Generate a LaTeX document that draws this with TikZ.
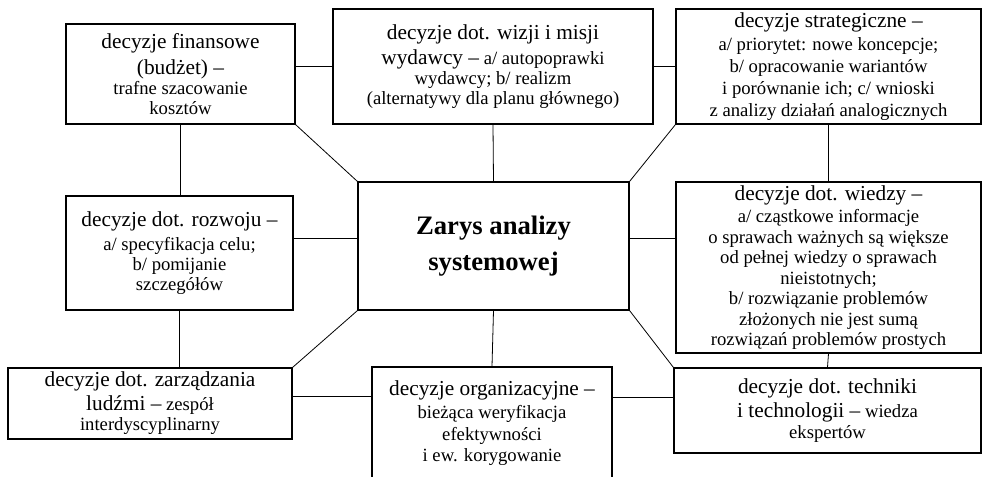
\documentclass[tikz,border=0pt]{standalone}
\usepackage{fontspec}
\setmainfont{Liberation Serif}
\usetikzlibrary{positioning}
\newcommand{\duzy}{\fontsize{16}{19}\selectfont}
\newcommand{\maly}{\fontsize{14}{15}\selectfont}

\begin{document}
\begin{tikzpicture}[
  x=0.75pt, y=-0.75pt,
  box/.style={draw, line width=0.9pt, align=center, inner sep=2pt, font=\maly},
  link/.style={line width=0.6pt}
]
\useasboundingbox (0,0) rectangle (983,476);
\node[box, minimum width=271*0.75pt, minimum height=128*0.75pt, font=\fontsize{20}{27}\selectfont\bfseries] (cen) at (493.5,246) {Zarys analizy\\systemowej};
\node[box, minimum width=229*0.75pt, minimum height=100*0.75pt] (fin) at (180.5,74)
  {{\duzy decyzje finansowe}\\[5pt]{\duzy (budżet) –}\\trafne szacowanie\\kosztów};
\node[box, minimum width=320*0.75pt, minimum height=115*0.75pt] (wiz) at (493,66.5)
  {{\duzy decyzje dot. wizji i misji}\\[3.5pt]{\duzy wydawcy –} a/ autopoprawki\\wydawcy; b/ realizm\\(alternatywy dla planu głównego)};
\node[box, minimum width=305*0.75pt, minimum height=115*0.75pt, font=\fontsize{14}{16.5}\selectfont] (str) at (828.5,66.5)
  {{\duzy decyzje strategiczne –}\\[1pt]a/ priorytet: nowe koncepcje;\\b/ opracowanie wariantów\\i porównanie ich; c/ wnioski\\z analizy działań analogicznych};
\node[box, minimum width=227*0.75pt, minimum height=114*0.75pt] (roz) at (179.5,253)
  {{\duzy decyzje dot. rozwoju –}\\[3pt]a/ specyfikacja celu;\\b/ pomijanie\\szczegółów};
\node[box, minimum width=305*0.75pt, minimum height=171*0.75pt, font=\fontsize{14}{15.4}\selectfont] (wie) at (828.5,267.5)
  {{\duzy decyzje dot. wiedzy –}\\[1.5pt]a/ cząstkowe informacje\\o sprawach ważnych są większe\\od pełnej wiedzy o sprawach\\nieistotnych;\\b/ rozwiązanie problemów\\złożonych nie jest sumą\\rozwiązań problemów prostych};
\node[box, minimum width=284*0.75pt, minimum height=71*0.75pt] (zar) at (150,403.5)
  {{\duzy decyzje dot. zarządzania}\\[3pt]{\duzy ludźmi –} zespół\\interdyscyplinarny};
\node[box, minimum width=240*0.75pt, minimum height=113*0.75pt, font=\fontsize{14}{16.2}\selectfont] (org) at (492,423.5)
  {{\duzy decyzje organizacyjne –}\\[1pt]bieżąca weryfikacja\\efektywności\\i ew. korygowanie};
\node[box, minimum width=307*0.75pt, minimum height=85*0.75pt] (tec) at (827.5,410.5)
  {{\duzy decyzje dot. techniki}\\[3pt]{\duzy i technologii –} wiedza\\[1pt]ekspertów};

\draw[link] (wiz.west) -- (wiz.west -| fin.east);
\draw[link] (wiz.east) -- (str.west);
\draw[link] (fin.south) -- (fin.south |- roz.north);
\draw[link] (wiz.south) -- (cen.north);
\draw[link] (str.south) -- (wie.north);
\draw[link] (fin.south east) -- (cen.north west);
\draw[link] (str.south west) -- (cen.north east);
\draw[link] ([yshift=6pt]cen.west) -- ([yshift=6pt]cen.west -| roz.east);
\draw[link] ([yshift=6pt]cen.east) -- ([yshift=6pt]cen.east -| wie.west);
\draw[link] (roz.south) -- (roz.south |- zar.north);
\draw[link] (cen.south west) -- (zar.north east);
\draw[link] (cen.south) -- (org.north);
\draw[link] (cen.south east) -- (tec.north west);
\draw[link] ([yshift=5pt]zar.east) -- ([yshift=5pt]zar.east -| org.west);
\draw[link] ([yshift=10pt]tec.west) -- ([yshift=10pt]tec.west -| org.east);
\draw[link] (wie.south) -- (tec.north);
\end{tikzpicture}
\end{document}
